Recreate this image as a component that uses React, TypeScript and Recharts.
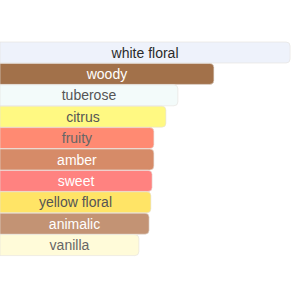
import React from "react";
import { BarChart, Bar, XAxis, YAxis, Cell, LabelList } from "recharts";

const categories = ["white floral", "woody", "tuberose", "citrus", "fruity", "amber", "sweet", "yellow floral", "animalic", "vanilla"];
const values = [96.7, 71.3, 59.3, 55.3, 51.3, 51.3, 50.7, 50.3, 49.7, 46.3];
const barColors = ["#EEF2FB", "#A2714A", "#F3FBFA", "#FFF982", "#FF8A72", "#D68B68", "#FF8280", "#FFE466", "#C39374", "#FFFBD9"];
const textColors = ["#2a2a2a", "#ffffff", "#555555", "#555555", "#666666", "#ffffff", "#ffffff", "#555555", "#ffffff", "#666666"];

const data = categories.map((c, i) => ({ name: c, value: values[i] }));

const renderLabel = (props: any) => {
  const { x, y, width, height, index } = props;
  return (
    <text
      x={x + width / 2}
      y={y + height / 2}
      textAnchor="middle"
      dominantBaseline="central"
      fontFamily="Liberation Sans, Arial, sans-serif"
      fontSize={14}
      fill={textColors[index]}
    >
      {categories[index]}
    </text>
  );
};

export default function App() {
  return (
    <div style={{ position: "absolute", left: 0, top: 0, width: 300, height: 300, background: "#fff" }}>
      <BarChart
        width={300}
        height={300}
        data={data}
        layout="vertical"
        margin={{ top: 42, right: 0, bottom: 44, left: 0 }}
        barCategoryGap={0}
      >
        <XAxis type="number" domain={[0, 100]} hide />
        <YAxis type="category" dataKey="name" hide width={0} />
        <Bar dataKey="value" isAnimationActive={false} radius={[0, 4, 4, 0]} stroke="#e4e0dc" strokeWidth={0.6}>
          {data.map((d, i) => (
            <Cell key={d.name} fill={barColors[i]} />
          ))}
          <LabelList dataKey="name" content={renderLabel} />
        </Bar>
      </BarChart>
    </div>
  );
}
